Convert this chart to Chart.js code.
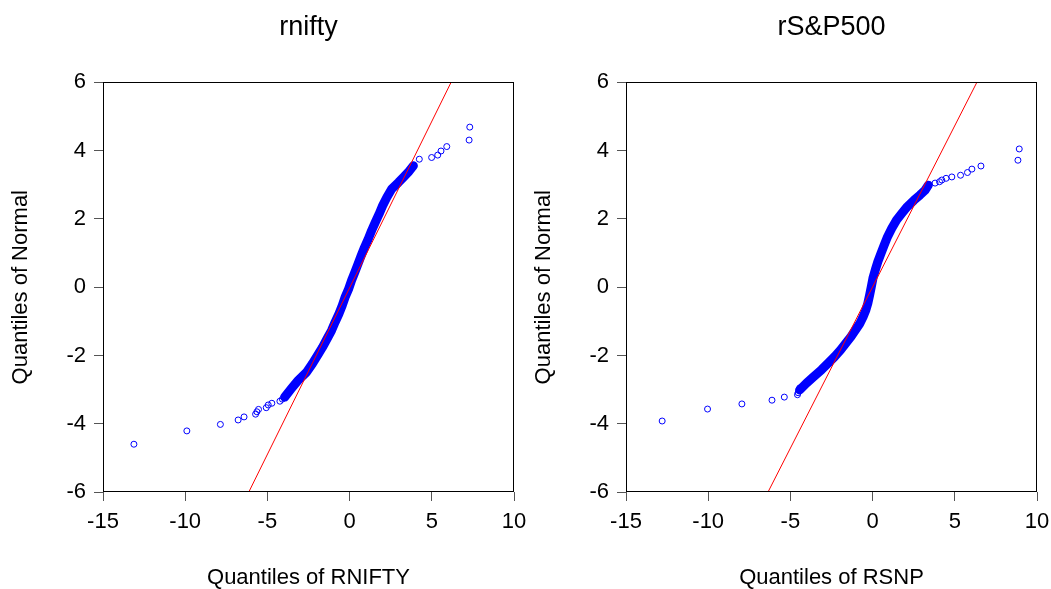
<!DOCTYPE html>
<html>
<head>
<meta charset="utf-8">
<script src="https://cdn.jsdelivr.net/npm/chart.js@4"></script>
<style>
  body { margin: 0; background: #fff; }
  #wrap { position: relative; width: 1051px; height: 589px; }
  canvas { position: absolute; top: 0; }
</style>
</head>
<body>
<div id="wrap">
  <canvas id="left" width="540" height="589" style="left:0"></canvas>
  <canvas id="right" width="528" height="589" style="left:523px"></canvas>
</div>
<script>
// rnifty: sample quantiles (x) against normal quantiles (y)
const niftyLowX = [-13.12, -9.90, -7.86, -6.78, -6.42, -5.72, -5.64, -5.54, -5.07, -4.95, -4.73, -4.24, -4.09];
const niftyLowY = [-4.60, -4.21, -4.02, -3.89, -3.80, -3.72, -3.65, -3.58, -3.53, -3.45, -3.40, -3.34, -3.28];
const niftyBandX = [-3.95, -3.54, -3.13, -2.62, -2.26, -1.95, -1.65, -1.37, -1.10, -0.88, -0.65, -0.45, -0.27, -0.06, 0.12, 0.32, 0.51, 0.71, 0.91, 1.13, 1.34, 1.56, 1.79, 2.01, 2.26, 2.56, 2.97, 3.27, 3.57, 3.88];
const niftyBandY = [-3.22, -2.97, -2.73, -2.49, -2.24, -2.00, -1.76, -1.51, -1.27, -1.02, -0.78, -0.54, -0.29, -0.05, 0.20, 0.44, 0.68, 0.93, 1.17, 1.41, 1.66, 1.90, 2.14, 2.39, 2.63, 2.88, 3.07, 3.22, 3.37, 3.56];
const niftyHighX = [4.24, 4.99, 5.36, 5.56, 5.91, 7.27, 7.31];
const niftyHighY = [3.75, 3.80, 3.87, 3.99, 4.12, 4.31, 4.69];
const niftyLineX = [-6.13, 6.17];
const niftyLineY = [-6, 6];

// rS&P500
const snpLowX = [-12.80, -10.04, -7.95, -6.12, -5.37, -4.57, -4.53, -4.49, -4.43];
const snpLowY = [-3.92, -3.57, -3.42, -3.31, -3.22, -3.15, -3.09, -3.01, -2.95];
const snpBandX = [-4.43, -4.02, -3.58, -3.11, -2.71, -2.30, -1.95, -1.63, -1.32, -1.04, -0.77, -0.57, -0.41, -0.29, -0.18, -0.08, 0.02, 0.16, 0.32, 0.51, 0.71, 0.91, 1.16, 1.46, 1.77, 2.11, 2.52, 2.88, 3.19, 3.39];
const snpBandY = [-3.01, -2.81, -2.62, -2.42, -2.23, -2.03, -1.84, -1.64, -1.45, -1.25, -1.06, -0.86, -0.67, -0.47, -0.23, 0.01, 0.26, 0.50, 0.75, 0.99, 1.24, 1.48, 1.72, 1.97, 2.16, 2.36, 2.55, 2.70, 2.84, 2.99];
const snpHighX = [3.80, 4.07, 4.21, 4.47, 4.82, 5.35, 5.77, 6.04, 6.59, 8.84, 8.92];
const snpHighY = [3.05, 3.09, 3.14, 3.19, 3.23, 3.28, 3.36, 3.46, 3.55, 3.72, 4.05];
const snpLineX = [-6.36, 6.34];
const snpLineY = [-6, 6];

const xTicks = [-15, 10, 5];   // min, max, step
const yTicks = [-6, 6, 2];

const family = "'Liberation Sans', Arial, sans-serif";
const blue = '#0000FF';

function pts(xs, ys) {
  return xs.map((x, i) => ({ x: x, y: ys[i] }));
}

// box round the plot area
const frame = {
  id: 'frame',
  afterDatasetsDraw(chart) {
    const a = chart.chartArea, ctx = chart.ctx;
    ctx.save();
    ctx.strokeStyle = '#000';
    ctx.lineWidth = 1;
    ctx.strokeRect(Math.round(a.left) + 0.5, Math.round(a.top) + 0.5,
      Math.round(a.right - a.left) - 1, Math.round(a.bottom - a.top) - 1);
    ctx.restore();
  }
};

function qqChart(id, title, xTitle, lowX, lowY, bandX, bandY, highX, highY, lineX, lineY, padRight) {
  const marker = {
    showLine: false,
    pointRadius: 3,
    pointBorderWidth: 1,
    pointBorderColor: blue,
    pointBackgroundColor: 'rgba(0,0,0,0)',
    order: 1
  };
  return new Chart(document.getElementById(id), {
    type: 'scatter',
    data: {
      datasets: [
        { data: pts(lineX, lineY), showLine: true, borderColor: '#FF0000', borderWidth: 1, pointRadius: 0, order: 0 },
        Object.assign({ data: pts(lowX, lowY) }, marker),
        Object.assign({ data: pts(bandX, bandY) }, marker, {
          showLine: true, borderColor: blue, borderWidth: 9,
          borderCapStyle: 'round', borderJoinStyle: 'round'
        }),
        Object.assign({ data: pts(highX, highY) }, marker)
      ]
    },
    options: {
      responsive: false,
      animation: false,
      devicePixelRatio: 1,
      layout: { padding: { left: 0, right: padRight, top: 0, bottom: 0 } },
      plugins: {
        legend: { display: false },
        tooltip: { enabled: false },
        title: {
          display: true, text: title, fullSize: false, color: '#000',
          font: { family: family, size: 27, weight: 'normal' },
          padding: { top: 11, bottom: 39 }
        }
      },
      scales: {
        x: {
          type: 'linear', position: 'bottom',
          min: xTicks[0], max: xTicks[1],
          afterFit: s => { s.height = 97; s.paddingLeft = 0; s.paddingRight = 0; },
          ticks: { stepSize: xTicks[2], color: '#000', font: { family: family, size: 22 }, padding: 8, maxRotation: 0 },
          grid: { drawOnChartArea: false, drawTicks: true, tickLength: 9, color: '#555' },
          border: { display: false },
          title: { display: true, text: xTitle, color: '#000', font: { family: family, size: 22, lineHeight: 1 }, padding: { top: 0, bottom: 0 } }
        },
        y: {
          type: 'linear', position: 'left',
          min: yTicks[0], max: yTicks[1],
          afterFit: s => { s.width = 103; },
          ticks: { stepSize: yTicks[2], color: '#000', font: { family: family, size: 22 }, padding: 8 },
          grid: { drawOnChartArea: false, drawTicks: true, tickLength: 9, color: '#555' },
          border: { display: false },
          title: { display: true, text: 'Quantiles of Normal', color: '#000', font: { family: family, size: 22, lineHeight: 1 }, padding: { top: 10, bottom: 0 } }
        }
      }
    },
    plugins: [frame]
  });
}

qqChart('left', 'rnifty', 'Quantiles of RNIFTY',
  niftyLowX, niftyLowY, niftyBandX, niftyBandY, niftyHighX, niftyHighY, niftyLineX, niftyLineY, 26);
qqChart('right', 'rS&P500', 'Quantiles of RSNP',
  snpLowX, snpLowY, snpBandX, snpBandY, snpHighX, snpHighY, snpLineX, snpLineY, 14);
</script>
</body>
</html>
